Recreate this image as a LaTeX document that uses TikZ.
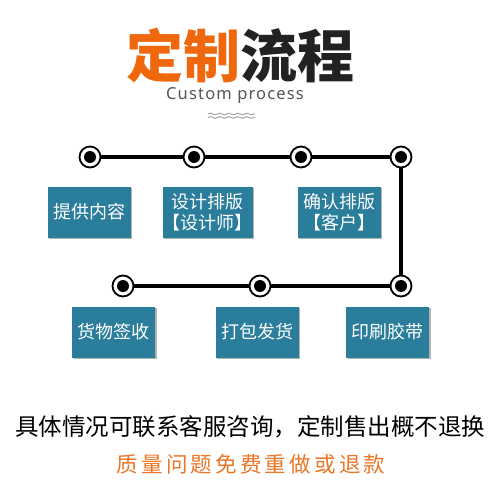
\documentclass[tikz,border=0pt]{standalone}
\usepackage{fontspec}
\usepackage{xcolor}
\usetikzlibrary{shadows,decorations.pathmorphing}
\newfontfamily\cjk{Noto Sans CJK SC}
\newfontfamily\cjkwide[LetterSpace=15]{Noto Sans CJK SC}
\newfontfamily\latin[LetterSpace=7]{Noto Sans}
\definecolor{titleorange}{RGB}{240,104,14}
\definecolor{titledark}{RGB}{34,34,34}
\definecolor{stepblue}{RGB}{42,125,155}
\definecolor{noteorange}{RGB}{236,118,40}
\definecolor{subgray}{RGB}{85,85,85}
\tikzset{
  stepbox/.style={fill=stepblue,text=white,minimum width=83pt,minimum height=51pt,inner sep=0pt,
    align=center,font=\cjk\fontsize{18}{21}\selectfont,
    drop shadow={shadow xshift=1.5pt,shadow yshift=-1.5pt,fill=black,opacity=0.3}},
  ring/.style={circle,draw=black,line width=1.8pt,fill=white,minimum size=21pt,inner sep=0pt,
    path picture={\fill[black] (path picture bounding box.center) circle (6pt);}},
  track/.style={line width=3.6pt,black},
  wave/.style={draw=gray!70,line width=1pt,decorate,decoration={snake,segment length=9pt,amplitude=0.8pt}},
}

\begin{document}
\begin{tikzpicture}[x=1pt,y=-1pt]
  \useasboundingbox[fill=white] (0,0) rectangle (500,500);
  % heading
  \node[font=\cjk\bfseries\fontsize{57}{62}\selectfont] (title) at (240,55)
       {\textcolor{titleorange}{定制}\textcolor{titledark}{流程}};
  \node[font=\latin\fontsize{16.5}{19}\selectfont,text=subgray] (sub) at (235,96) {Custom process};
  \draw[wave] (208,114) -- (255,114);
  \draw[wave] (208,117.5) -- (255,117.5);
  % rings on the track
  \foreach \n/\x in {t1/90,t2/194,t3/301,t4/401}
     \node[ring] (\n) at (\x,157) {};
  \foreach \n/\x in {b1/123,b2/260,b3/401}
     \node[ring] (\n) at (\x,286) {};
  \draw[track] (t1) -- (t2);
  \draw[track] (t2) -- (t3);
  \draw[track] (t3) -- (t4);
  \draw[track] (t4) -- (b3);
  \draw[track] (b3) -- (b2);
  \draw[track] (b2) -- (b1);
  % steps
  \node[stepbox] (s1) at (89,212) {提供内容};
  \node[stepbox] (s2) at (207.5,212) {设计排版\\【设计师】};
  \node[stepbox] (s3) at (339,212) {确认排版\\【客户】};
  \node[stepbox] (s4) at (387.5,332) {印刷胶带};
  \node[stepbox] (s5) at (257,332) {打包发货};
  \node[stepbox] (s6) at (113.5,332) {货物签收};
  % notes
  \node[font=\cjk\fontsize{23.5}{27}\selectfont] (note) at (250,427)
       {具体情况可联系客服咨询，定制售出概不退换};
  \node[font=\cjkwide\fontsize{21.5}{25}\selectfont,text=noteorange] (warn) at (251,464)
       {质量问题免费重做或退款};
\end{tikzpicture}
\end{document}
